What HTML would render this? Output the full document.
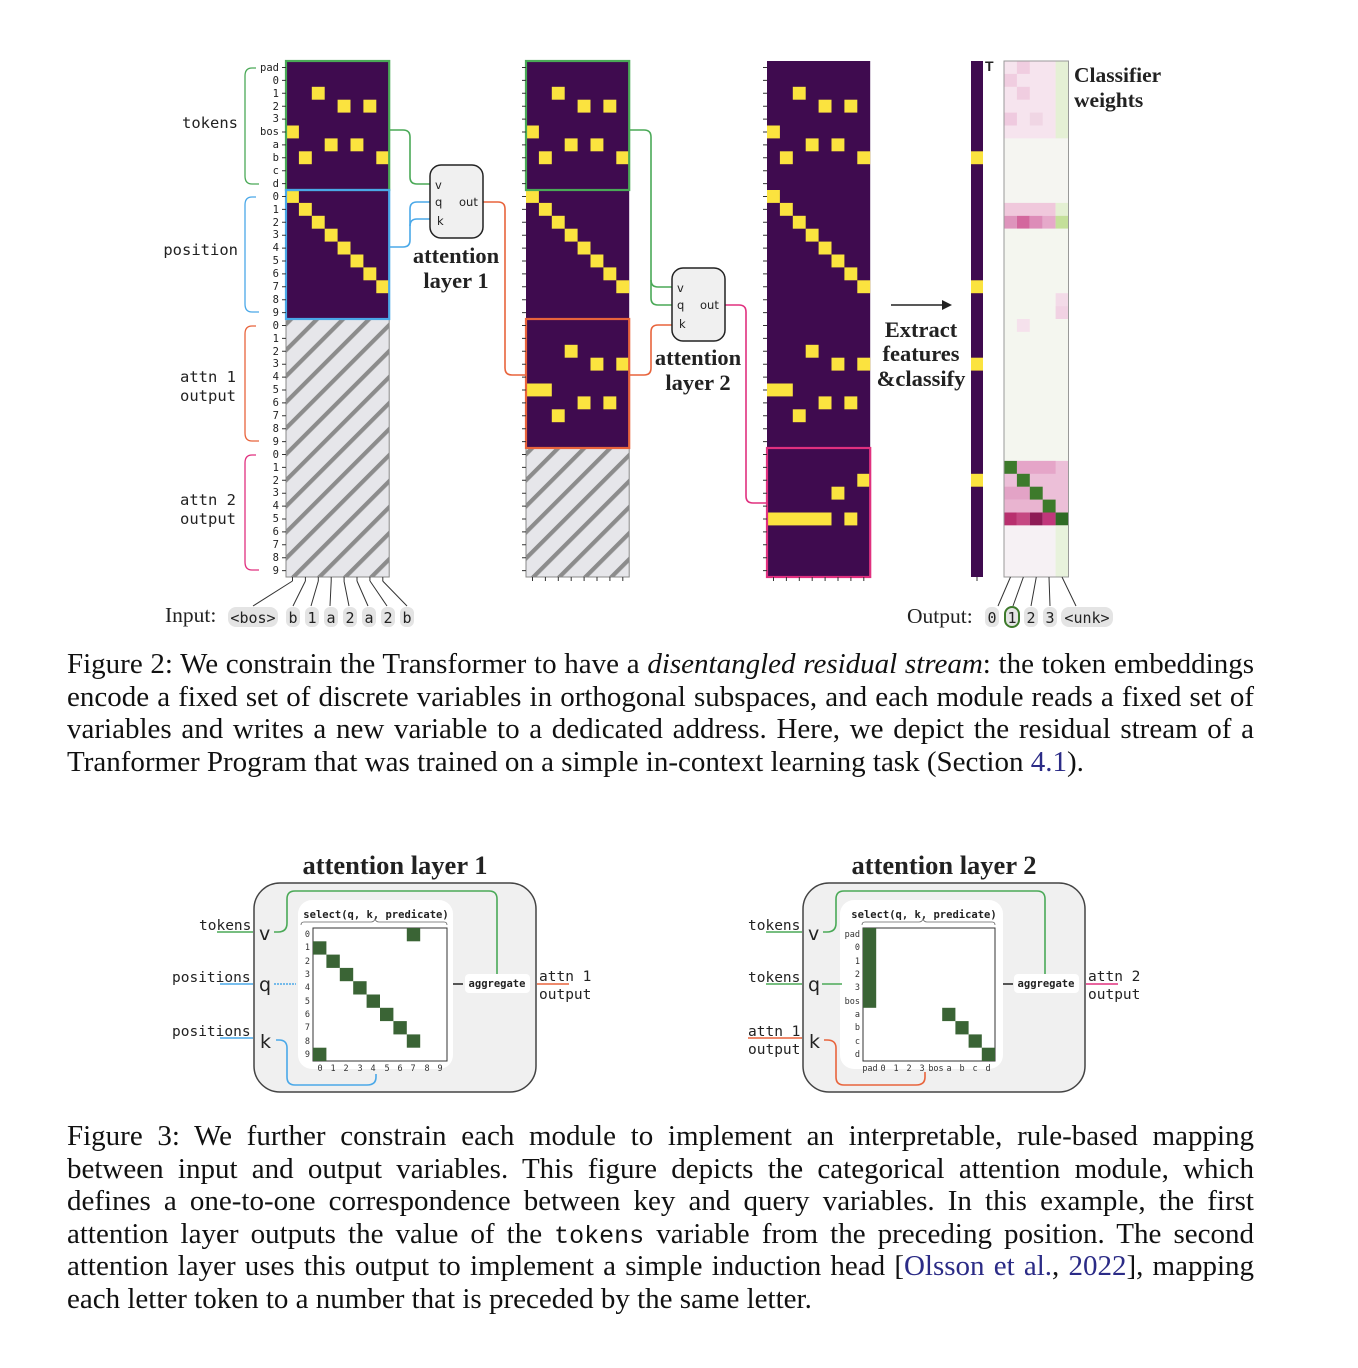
<!DOCTYPE html>
<html><head><meta charset="utf-8"><style>
body{margin:0;background:#fff;width:1358px;height:1368px;position:relative;overflow:hidden}
svg{position:absolute;left:0;top:0}
.cap{position:absolute;left:67px;width:1187px;font-family:"Liberation Serif",serif;font-size:29px;line-height:32.5px;color:#111}
.cap div{text-align:justify;text-align-last:justify;white-space:nowrap;height:32.5px}
.cap div.last{text-align-last:left}
.lnk{color:#2b2b86}
.mono{font-family:"Liberation Mono",monospace;font-size:25px;line-height:20px}
</style></head><body>
<svg width="1358" height="1368" viewBox="0 0 1358 1368">
<defs>
<pattern id="hatch" patternUnits="userSpaceOnUse" width="18.4" height="18.4" patternTransform="rotate(45)">
<rect width="18.4" height="18.4" fill="#e6e6ea"/><rect x="0" y="0" width="4.2" height="18.4" fill="#8c8c8c"/>
</pattern>
<g id="base">
<rect x="0" y="5" width="1" height="1"/><rect x="1" y="7" width="1" height="1"/><rect x="2" y="2" width="1" height="1"/><rect x="3" y="6" width="1" height="1"/><rect x="4" y="3" width="1" height="1"/><rect x="5" y="6" width="1" height="1"/><rect x="6" y="3" width="1" height="1"/><rect x="7" y="7" width="1" height="1"/>
<rect x="0" y="10" width="1" height="1"/><rect x="1" y="11" width="1" height="1"/><rect x="2" y="12" width="1" height="1"/><rect x="3" y="13" width="1" height="1"/><rect x="4" y="14" width="1" height="1"/><rect x="5" y="15" width="1" height="1"/><rect x="6" y="16" width="1" height="1"/><rect x="7" y="17" width="1" height="1"/>
</g>
<g id="a1">
<rect x="0" y="25" width="2" height="1"/><rect x="2" y="27" width="1" height="1"/><rect x="3" y="22" width="1" height="1"/><rect x="4" y="26" width="1" height="1"/><rect x="5" y="23" width="1" height="1"/><rect x="6" y="26" width="1" height="1"/><rect x="7" y="23" width="1" height="1"/>
</g>
<g id="lticks" stroke="#333" stroke-width="1">
<path d="M-4,6.5h4M-4,19.4h4M-4,32.3h4M-4,45.2h4M-4,58.1h4M-4,71h4M-4,83.9h4M-4,96.8h4M-4,109.7h4M-4,122.6h4M-4,135.5h4M-4,148.4h4M-4,161.3h4M-4,174.2h4M-4,187.1h4M-4,200h4M-4,212.9h4M-4,225.8h4M-4,238.7h4M-4,251.6h4M-4,264.5h4M-4,277.4h4M-4,290.3h4M-4,303.2h4M-4,316.1h4M-4,329h4M-4,341.9h4M-4,354.8h4M-4,367.7h4M-4,380.6h4M-4,393.5h4M-4,406.4h4M-4,419.3h4M-4,432.2h4M-4,445.1h4M-4,458h4M-4,470.9h4M-4,483.8h4M-4,496.7h4M-4,509.6h4"/>
</g>
<g id="bticks" stroke="#333" stroke-width="1"><path d="M6.5,516v4M19.4,516v4M32.3,516v4M45.2,516v4M58.1,516v4M71,516v4M83.9,516v4M96.8,516v4"/></g>
</defs>

<g transform="translate(286,61)">
<rect x="0" y="0" width="103.2" height="258" fill="#3f0b4f"/>
<rect x="0" y="258" width="103.2" height="258" fill="url(#hatch)" stroke="#888" stroke-width="1"/>
<g transform="scale(12.9)" fill="#fbe33f"><use href="#base"/></g>
<rect x="0" y="0" width="103.2" height="129" fill="none" stroke="#4aa957" stroke-width="2.2"/>
<rect x="0" y="129" width="103.2" height="129" fill="none" stroke="#4aa8e8" stroke-width="2.2"/>
<use href="#lticks"/>
<use href="#bticks"/>
</g>
<g font-family="DejaVu Sans Mono,monospace" font-size="10.5" fill="#222" text-anchor="end">
<text x="279" y="71">pad</text><text x="279" y="84">0</text><text x="279" y="97">1</text><text x="279" y="110">2</text><text x="279" y="122">3</text><text x="279" y="135">bos</text><text x="279" y="148">a</text><text x="279" y="161">b</text><text x="279" y="174">c</text><text x="279" y="187">d</text>
<text x="279" y="200">0</text><text x="279" y="213">1</text><text x="279" y="226">2</text><text x="279" y="238">3</text><text x="279" y="251">4</text><text x="279" y="264">5</text><text x="279" y="277">6</text><text x="279" y="290">7</text><text x="279" y="303">8</text><text x="279" y="316">9</text>
<text x="279" y="329">0</text><text x="279" y="342">1</text><text x="279" y="355">2</text><text x="279" y="367">3</text><text x="279" y="380">4</text><text x="279" y="393">5</text><text x="279" y="406">6</text><text x="279" y="419">7</text><text x="279" y="432">8</text><text x="279" y="445">9</text>
<text x="279" y="458">0</text><text x="279" y="471">1</text><text x="279" y="484">2</text><text x="279" y="496">3</text><text x="279" y="509">4</text><text x="279" y="522">5</text><text x="279" y="535">6</text><text x="279" y="548">7</text><text x="279" y="561">8</text><text x="279" y="574">9</text>
</g>
<g fill="none" stroke-width="1.3">
<path d="M256,68H252Q245,68 245,76V176Q245,184 252,184H259" stroke="#4aa957"/>
<path d="M256,197H252Q245,197 245,205V304Q245,312 252,312H259" stroke="#4aa8e8"/>
<path d="M256,326H252Q245,326 245,334V433Q245,441 252,441H259" stroke="#e8643c"/>
<path d="M256,455H252Q245,455 245,463V562Q245,570 252,570H259" stroke="#e0307f"/>
</g>
<g font-family="DejaVu Sans Mono,monospace" font-size="15.5" fill="#222" text-anchor="end">
<text x="238" y="128">tokens</text><text x="238" y="255">position</text>
<text x="236" y="382">attn 1</text><text x="236" y="401">output</text>
<text x="236" y="505">attn 2</text><text x="236" y="524">output</text>
</g>

<g transform="translate(526,61)">
<rect x="0" y="0" width="103.2" height="387" fill="#3f0b4f"/>
<rect x="0" y="387" width="103.2" height="129" fill="url(#hatch)" stroke="#888" stroke-width="1"/>
<g transform="scale(12.9)" fill="#fbe33f"><use href="#base"/><use href="#a1"/></g>
<rect x="0" y="0" width="103.2" height="129" fill="none" stroke="#4aa957" stroke-width="2.2"/>
<rect x="0" y="258" width="103.2" height="129" fill="none" stroke="#e8643c" stroke-width="2.2"/>
<use href="#lticks"/><use href="#bticks"/>
</g>

<g transform="translate(767,61)">
<rect x="0" y="0" width="103.2" height="516" fill="#3f0b4f"/>
<g transform="scale(12.9)" fill="#fbe33f"><use href="#base"/><use href="#a1"/>
<rect x="0" y="35" width="5" height="1"/><rect x="6" y="35" width="1" height="1"/><rect x="5" y="33" width="1" height="1"/><rect x="7" y="32" width="1" height="1"/></g>
<rect x="0" y="387" width="103.2" height="129" fill="none" stroke="#e0307f" stroke-width="2.2"/>
<use href="#lticks"/><use href="#bticks"/>
</g>

<g transform="translate(971,61)">
<rect x="0" y="0" width="12" height="516" fill="#3f0b4f"/>
<g fill="#fbe33f"><rect x="0" y="90.3" width="12" height="12.9"/><rect x="0" y="219.3" width="12" height="12.9"/><rect x="0" y="296.7" width="12" height="12.9"/><rect x="0" y="412.8" width="12" height="12.9"/></g>
<path d="M6,516v4" stroke="#333"/>
</g>
<text x="985" y="71" font-family="Liberation Sans,sans-serif" font-size="14" font-weight="bold" fill="#222">T</text>

<g transform="translate(1004,61)">
<rect x="0" y="0" width="64.5" height="516" fill="#f6f3f5"/>
<g transform="scale(12.9)">
<rect x="0" y="0" width="5" height="6" fill="#f6e4ee"/>
<rect x="1" y="0" width="1" height="1" fill="#f0cde0"/><rect x="0" y="1" width="1" height="1" fill="#f0cde0"/><rect x="1" y="2" width="1" height="1" fill="#f0cde0"/><rect x="0" y="4" width="1" height="1" fill="#efcadf"/><rect x="2" y="4" width="1" height="1" fill="#f0d6e4"/>
<rect x="4" y="0" width="1" height="6" fill="#e5f0d5"/>
<rect x="0" y="6" width="5" height="5" fill="#f5f5f1"/>
<rect x="0" y="11" width="4" height="1" fill="#f0c8dc"/><rect x="4" y="11" width="1" height="1" fill="#e4f0d3"/>
<rect x="0" y="12" width="1" height="1" fill="#de94bc"/><rect x="1" y="12" width="1" height="1" fill="#d3679d"/><rect x="2" y="12" width="1" height="1" fill="#dd8cb8"/><rect x="3" y="12" width="1" height="1" fill="#e6a9ca"/><rect x="4" y="12" width="1" height="1" fill="#c4e09a"/>
<rect x="0" y="13" width="5" height="18" fill="#f4f6ef"/>
<rect x="4" y="18" width="1" height="1" fill="#f3dbe8"/><rect x="4" y="19" width="1" height="1" fill="#f1d2e3"/><rect x="1" y="20" width="1" height="1" fill="#f5e1ec"/>
<rect x="0" y="31" width="5" height="5" fill="#ecbfd8"/>
<rect x="1" y="31" width="3" height="1" fill="#e5a5c8"/><rect x="0" y="33" width="2" height="1" fill="#e3a3c6"/><rect x="0" y="34" width="3" height="1" fill="#e9b4d0"/>
<rect x="0" y="31" width="1" height="1" fill="#3d7a2b"/><rect x="1" y="32" width="1" height="1" fill="#3d7a2b"/><rect x="2" y="33" width="1" height="1" fill="#3d7a2b"/><rect x="3" y="34" width="1" height="1" fill="#3d7a2b"/>
<rect x="0" y="35" width="1" height="1" fill="#b8306e"/><rect x="1" y="35" width="1" height="1" fill="#c54882"/><rect x="2" y="35" width="1" height="1" fill="#8e1b55"/><rect x="3" y="35" width="1" height="1" fill="#c1377b"/><rect x="4" y="35" width="1" height="1" fill="#2f6a25"/>
<rect x="0" y="36" width="5" height="4" fill="#f6f1f4"/><rect x="4" y="36" width="1" height="4" fill="#e8f2dc"/>
</g>
<rect x="0" y="0" width="64.5" height="516" fill="none" stroke="#999" stroke-width="1"/>
</g>
<g font-family="Liberation Serif,serif" font-weight="bold" font-size="21.5" fill="#222">
<text x="1074" y="82">Classifier</text><text x="1074" y="107">weights</text>
</g>

<g fill="none" stroke-width="1.6">
<path d="M389,130H403Q410,130 410,137V177Q410,184 417,184H431" stroke="#4aa957"/>
<path d="M389,247H403Q410,247 410,240V209Q410,202 417,202H431" stroke="#4aa8e8"/>
<path d="M410,226Q410,219 417,219H431" stroke="#4aa8e8"/>
<path d="M483,202H498Q505,202 505,209V368Q505,375 512,375H526" stroke="#e8643c"/>
<path d="M629,130H644Q651,130 651,137V280Q651,287 658,287H673" stroke="#4aa957"/>
<path d="M651,280V298Q651,305 658,305H673" stroke="#4aa957"/>
<path d="M629,375H644Q651,375 651,368V332Q651,325 658,325H673" stroke="#e8643c"/>
<path d="M725,305H739Q746,305 746,312V496Q746,503 753,503H767" stroke="#e0307f"/>
</g>
<rect x="430" y="165" width="53" height="73" rx="11" fill="#f0f0f0" stroke="#222" stroke-width="1.5"/>
<rect x="672" y="268" width="53" height="73" rx="11" fill="#f0f0f0" stroke="#222" stroke-width="1.5"/>
<g font-family="DejaVu Sans,sans-serif" font-size="11.5" fill="#222">
<text x="435" y="189">v</text><text x="435" y="206">q</text><text x="437" y="225">k</text><text x="459" y="206">out</text>
<text x="677" y="292">v</text><text x="677" y="309">q</text><text x="679" y="328">k</text><text x="700" y="309">out</text>
</g>
<g font-family="Liberation Serif,serif" font-weight="bold" font-size="22.5" fill="#222" text-anchor="middle">
<text x="456" y="263">attention</text><text x="456" y="288">layer 1</text>
<text x="698" y="365">attention</text><text x="698" y="390">layer 2</text>
<text x="921" y="337">Extract</text><text x="921" y="361">features</text><text x="921" y="386">&amp;classify</text>
</g>
<path d="M891,305H945" stroke="#222" stroke-width="1.6"/><path d="M952,305L942,300V310Z" fill="#222"/>

<g stroke="#333" stroke-width="1" fill="none">
<path d="M292.5,581L253,606M305.4,581L293,606M318.3,581L311,606M331.2,581L330,606M344,581L349,606M357,581L368,606M370,581L387,606M382.7,581L407,606"/>
<path d="M1010.5,577L998,606M1023.4,577L1013,606M1036.3,577L1031,606M1049,577L1050,606M1062,577L1076,606"/>
</g>
<g fill="#e4e4e4">
<rect x="228" y="607" width="50" height="20" rx="8"/><rect x="286" y="607" width="14" height="20" rx="6"/><rect x="305" y="607" width="14" height="20" rx="6"/><rect x="324" y="607" width="14" height="20" rx="6"/><rect x="343" y="607" width="14" height="20" rx="6"/><rect x="362" y="607" width="14" height="20" rx="6"/><rect x="381" y="607" width="14" height="20" rx="6"/><rect x="400" y="607" width="14" height="20" rx="6"/>
<rect x="985" y="607" width="14" height="20" rx="6"/><rect x="1005" y="607" width="14" height="20" rx="7" stroke="#3d7a2b" stroke-width="2"/><rect x="1024" y="607" width="14" height="20" rx="6"/><rect x="1043" y="607" width="14" height="20" rx="6"/><rect x="1061" y="607" width="52" height="20" rx="8"/>
</g>
<g font-family="DejaVu Sans Mono,monospace" font-size="15" fill="#222" text-anchor="middle">
<text x="253" y="623">&lt;bos&gt;</text><text x="293" y="623">b</text><text x="312" y="623">1</text><text x="331" y="623">a</text><text x="350" y="623">2</text><text x="369" y="623">a</text><text x="388" y="623">2</text><text x="407" y="623">b</text>
<text x="992" y="623">0</text><text x="1012" y="623">1</text><text x="1031" y="623">2</text><text x="1050" y="623">3</text><text x="1087" y="623">&lt;unk&gt;</text>
</g>
<g font-family="Liberation Serif,serif" font-size="21.5" fill="#222">
<text x="165" y="622">Input:</text><text x="907" y="623">Output:</text>
</g>

<g font-family="Liberation Serif,serif" font-weight="bold" font-size="26.5" fill="#222" text-anchor="middle">
<text x="395" y="874">attention layer 1</text><text x="944" y="874">attention layer 2</text>
</g>
<rect x="254" y="883" width="282" height="209" rx="26" fill="#f0f0f0" stroke="#444" stroke-width="1.5"/>
<rect x="298" y="900" width="155" height="169" rx="14" fill="#fff"/>
<rect x="313" y="928" width="134" height="133" fill="#fff" stroke="#333" stroke-width="1"/>
<g fill="#3a6435" transform="translate(313,928) scale(13.4,13.3)">
<rect x="7" y="0" width="1" height="1"/><rect x="0" y="1" width="1" height="1"/><rect x="1" y="2" width="1" height="1"/><rect x="2" y="3" width="1" height="1"/><rect x="3" y="4" width="1" height="1"/><rect x="4" y="5" width="1" height="1"/><rect x="5" y="6" width="1" height="1"/><rect x="6" y="7" width="1" height="1"/><rect x="7" y="8" width="1" height="1"/><rect x="0" y="9" width="1" height="1"/>
</g>
<g font-family="DejaVu Sans Mono,monospace" font-size="8.5" fill="#333" text-anchor="end">
<text x="310" y="937">0</text><text x="310" y="950">1</text><text x="310" y="964">2</text><text x="310" y="977">3</text><text x="310" y="990">4</text><text x="310" y="1004">5</text><text x="310" y="1017">6</text><text x="310" y="1030">7</text><text x="310" y="1044">8</text><text x="310" y="1057">9</text>
</g>
<g font-family="DejaVu Sans Mono,monospace" font-size="8.5" fill="#333" text-anchor="middle">
<text x="320" y="1071">0</text><text x="333" y="1071">1</text><text x="346" y="1071">2</text><text x="360" y="1071">3</text><text x="373" y="1071">4</text><text x="387" y="1071">5</text><text x="400" y="1071">6</text><text x="413" y="1071">7</text><text x="427" y="1071">8</text><text x="440" y="1071">9</text>
</g>
<text x="376" y="918" font-family="DejaVu Sans Mono,monospace" font-size="10.5" font-weight="bold" fill="#222" text-anchor="middle">select(q, k, predicate)</text>
<path d="M301,925Q301,922 304,922H371Q374,922 375,919Q376,922 379,922H444Q447,922 447,925" fill="none" stroke="#666" stroke-width="0.8"/>
<rect x="465" y="974" width="65" height="19" rx="4" fill="#fff"/>
<text x="497" y="987" font-family="DejaVu Sans Mono,monospace" font-size="10.5" font-weight="bold" fill="#222" text-anchor="middle">aggregate</text>
<path d="M453,984H463" stroke="#222" stroke-width="1.5"/>
<g fill="none" stroke-width="1.6">
<path d="M274,932H278Q287,932 287,923V899Q287,891 295,891H489Q497,891 497,899V974" stroke="#4aa957"/>
<path d="M274,984H296" stroke="#4aa8e8" stroke-dasharray="2,1"/>
<path d="M276,1040H279Q287,1040 287,1048V1077Q287,1085 295,1085H367Q376,1085 376,1077V1074" stroke="#4aa8e8"/>
<path d="M217,932H253" stroke="#4aa957"/><path d="M220,984H253" stroke="#4aa8e8"/><path d="M220,1038H253" stroke="#4aa8e8"/>
<path d="M537,984H569" stroke="#e8643c"/>
</g>
<g font-family="DejaVu Sans Mono,monospace" font-size="14.5" fill="#222">
<text x="199" y="930">tokens</text><text x="172" y="982">positions</text><text x="172" y="1036">positions</text>
<text x="539" y="981">attn 1</text><text x="539" y="999">output</text>
</g>
<g font-family="DejaVu Sans,sans-serif" font-size="19" fill="#222">
<text x="259" y="940">v</text><text x="259" y="991">q</text><text x="260" y="1048">k</text>
</g>

<rect x="803" y="883" width="282" height="209" rx="26" fill="#f0f0f0" stroke="#444" stroke-width="1.5"/>
<rect x="840" y="900" width="163" height="169" rx="14" fill="#fff"/>
<rect x="863" y="928" width="132" height="133" fill="#fff" stroke="#333" stroke-width="1"/>
<g fill="#3a6435" transform="translate(863,928) scale(13.2,13.3)">
<rect x="0" y="0" width="1" height="6"/><rect x="6" y="6" width="1" height="1"/><rect x="7" y="7" width="1" height="1"/><rect x="8" y="8" width="1" height="1"/><rect x="9" y="9" width="1" height="1"/>
</g>
<g font-family="DejaVu Sans Mono,monospace" font-size="8.5" fill="#333" text-anchor="end">
<text x="860" y="937">pad</text><text x="860" y="950">0</text><text x="860" y="964">1</text><text x="860" y="977">2</text><text x="860" y="990">3</text><text x="860" y="1004">bos</text><text x="860" y="1017">a</text><text x="860" y="1030">b</text><text x="860" y="1044">c</text><text x="860" y="1057">d</text>
</g>
<g font-family="DejaVu Sans Mono,monospace" font-size="8.5" fill="#333" text-anchor="middle">
<text x="870" y="1071">pad</text><text x="883" y="1071">0</text><text x="896" y="1071">1</text><text x="909" y="1071">2</text><text x="922" y="1071">3</text><text x="936" y="1071">bos</text><text x="949" y="1071">a</text><text x="962" y="1071">b</text><text x="975" y="1071">c</text><text x="988" y="1071">d</text>
</g>
<text x="924" y="918" font-family="DejaVu Sans Mono,monospace" font-size="10.5" font-weight="bold" fill="#222" text-anchor="middle">select(q, k, predicate)</text>
<path d="M862,925Q862,922 865,922H919Q922,922 923,919Q924,922 927,922H992Q995,922 995,925" fill="none" stroke="#666" stroke-width="0.8"/>
<rect x="1014" y="974" width="65" height="19" rx="4" fill="#fff"/>
<text x="1046" y="987" font-family="DejaVu Sans Mono,monospace" font-size="10.5" font-weight="bold" fill="#222" text-anchor="middle">aggregate</text>
<path d="M1003,984H1013" stroke="#222" stroke-width="1.5"/>
<g fill="none" stroke-width="1.6">
<path d="M823,932H827Q836,932 836,923V899Q836,891 844,891H1037Q1045,891 1045,899V974" stroke="#4aa957"/>
<path d="M822,984H842" stroke="#4aa957"/>
<path d="M824,1040H827Q836,1040 836,1048V1077Q836,1085 844,1085H916Q925,1085 925,1077V1072" stroke="#e8643c"/>
<path d="M766,932H802" stroke="#4aa957"/><path d="M766,984H802" stroke="#4aa957"/><path d="M748,1038H802" stroke="#e8643c"/>
<path d="M1086,984H1118" stroke="#e0307f"/>
</g>
<g font-family="DejaVu Sans Mono,monospace" font-size="14.5" fill="#222">
<text x="748" y="930">tokens</text><text x="748" y="982">tokens</text><text x="748" y="1036">attn 1</text><text x="748" y="1054">output</text>
<text x="1088" y="981">attn 2</text><text x="1088" y="999">output</text>
</g>
<g font-family="DejaVu Sans,sans-serif" font-size="19" fill="#222">
<text x="808" y="940">v</text><text x="808" y="991">q</text><text x="809" y="1048">k</text>
</g>
</svg>

<div class="cap" style="top:648px">
<div>Figure 2: We constrain the Transformer to have a <i>disentangled residual stream</i>: the token embeddings</div>
<div>encode a fixed set of discrete variables in orthogonal subspaces, and each module reads a fixed set of</div>
<div>variables and writes a new variable to a dedicated address. Here, we depict the residual stream of a</div>
<div class="last">Tranformer Program that was trained on a simple in-context learning task (Section <span class="lnk">4.1</span>).</div>
</div>
<div class="cap" style="top:1120px">
<div>Figure 3: We further constrain each module to implement an interpretable, rule-based mapping</div>
<div>between input and output variables. This figure depicts the categorical attention module, which</div>
<div>defines a one-to-one correspondence between key and query variables. In this example, the first</div>
<div>attention layer outputs the value of the <span class="mono">tokens</span> variable from the preceding position. The second</div>
<div>attention layer uses this output to implement a simple induction head [<span class="lnk">Olsson et al.</span>, <span class="lnk">2022</span>], mapping</div>
<div class="last">each letter token to a number that is preceded by the same letter.</div>
</div>
</body></html>
